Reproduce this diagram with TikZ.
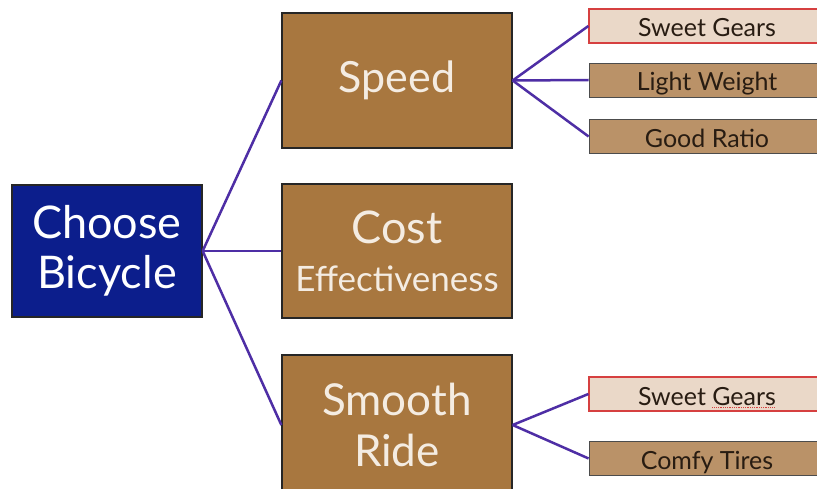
\documentclass[tikz,border=0pt]{standalone}
\usepackage{fontspec}
\setmainfont{Lato}
\definecolor{rootblue}{RGB}{12,30,140}
\definecolor{branchbrown}{RGB}{168,119,63}
\definecolor{leafbrown}{RGB}{186,146,104}
\definecolor{leafpale}{RGB}{234,216,200}
\definecolor{leafred}{RGB}{214,64,64}
\definecolor{linkpurple}{RGB}{78,46,165}
\definecolor{creamtext}{RGB}{244,236,226}
\definecolor{darktext}{RGB}{40,28,18}
% dotted red underline used as a spelling mark
\newsavebox\spellbox
\newcommand\spellmark[1]{\sbox\spellbox{#1}%
  \rlap{\raisebox{-3pt}{\textcolor{leafred}{\hbox to \wd\spellbox{\leaders\hbox to 1.8pt{\rule{0.9pt}{0.9pt}\hss}\hfill}}}}%
  \usebox\spellbox}
\tikzset{
  box/.style={draw=black!85, line width=1.3pt, inner sep=0pt, align=center},
  rootbox/.style={box, fill=rootblue, text=white, minimum width=190pt, minimum height=132pt,
    font=\fontsize{45}{50}\selectfont},
  branchbox/.style={box, fill=branchbrown, text=creamtext, minimum width=230pt},
  leafbox/.style={draw=black!70, line width=0.8pt, fill=leafbrown, text=darktext,
    minimum width=236pt, minimum height=34pt, inner sep=0pt, font=\fontsize{25}{28}\selectfont,
    text height=23pt, text depth=1pt},
  marked/.style={leafbox, draw=leafred, line width=1.2pt, fill=leafpale},
  link/.style={draw=linkpurple, line width=2.5pt}
}
\begin{document}
\begin{tikzpicture}[x=1pt,y=-1pt]
\clip (0,0) rectangle (817,489);
\fill[white] (0,0) rectangle (817,489);

% root
\node[rootbox] (root) at (107,251) {Choose\\Bicycle};

% branches
\node[branchbox, minimum height=135pt, font=\fontsize{43}{48}\selectfont] (speed) at (397,80.5) {Speed};
\node[branchbox, minimum height=134pt, font=\fontsize{45}{48}\selectfont] (cost) at (397,251)
  {Cost\\{\fontsize{35}{48}\selectfont Effectiveness}};
\node[branchbox, minimum height=140pt, font=\fontsize{44}{51}\selectfont] (smooth) at (397,425) {Smooth\\Ride};

% leaves
\node[marked] (gears1) at (707,26) {Sweet Gears};
\node[leafbox] (light) at (707,80) {Light Weight};
\node[leafbox] (ratio) at (707,136.5) {Good Ratio};
\node[marked] (gears2) at (707,394) {Sweet \spellmark{Gears}};
\node[leafbox] (tires) at (707,458.5) {Comfy Tires};

% connectors
\draw[link] (root.east) -- (speed.west);
\draw[link] (root.east) -- (cost.west);
\draw[link] (root.east) -- (smooth.west);
\draw[link] (speed.east) -- (gears1.west);
\draw[link] (speed.east) -- (light.west);
\draw[link] (speed.east) -- (ratio.west);
\draw[link] (smooth.east) -- (gears2.west);
\draw[link] (smooth.east) -- (tires.west);
\end{tikzpicture}
\end{document}
